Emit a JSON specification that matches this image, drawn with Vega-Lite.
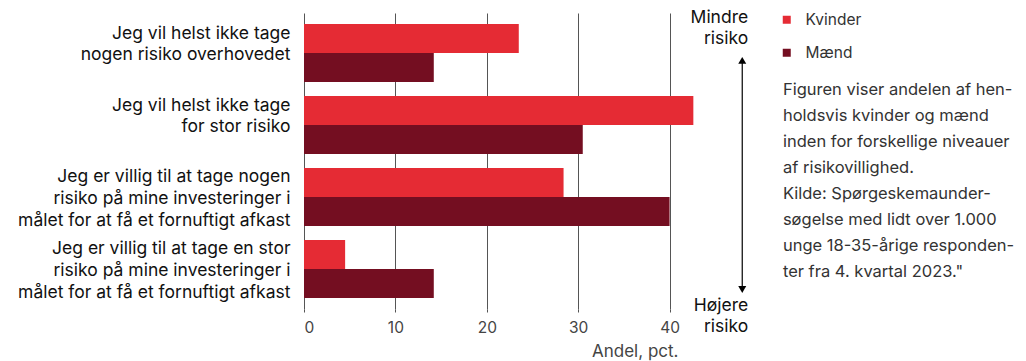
{
  "$schema": "https://vega.github.io/schema/vega-lite/v6.json",
  "autosize": {"type": "none"},
  "padding": {"left": 304, "top": 13, "right": 329, "bottom": 52},
  "width": 393,
  "height": 296,
  "background": "white",
  "config": {
    "font": "Inter",
    "view": {"stroke": null},
    "text": {"font": "Inter"}
  },
  "layer": [
    {
      "data": {"values": [
        {"kategori": "Jeg vil helst ikke tage|nogen risiko overhovedet", "køn": "Kvinder", "andel": 23.5},
        {"kategori": "Jeg vil helst ikke tage|nogen risiko overhovedet", "køn": "Mænd", "andel": 14.2},
        {"kategori": "Jeg vil helst ikke tage|for stor risiko", "køn": "Kvinder", "andel": 42.6},
        {"kategori": "Jeg vil helst ikke tage|for stor risiko", "køn": "Mænd", "andel": 30.5},
        {"kategori": "Jeg er villig til at tage  nogen|risiko på mine investeringer i|målet for at få et fornuftigt afkast", "køn": "Kvinder", "andel": 28.4},
        {"kategori": "Jeg er villig til at tage  nogen|risiko på mine investeringer i|målet for at få et fornuftigt afkast", "køn": "Mænd", "andel": 40.0},
        {"kategori": "Jeg er villig til at tage  en stor|risiko på mine investeringer i|målet for at få et fornuftigt afkast", "køn": "Kvinder", "andel": 4.5},
        {"kategori": "Jeg er villig til at tage  en stor|risiko på mine investeringer i|målet for at få et fornuftigt afkast", "køn": "Mænd", "andel": 14.2}
      ]},
      "mark": {"type": "bar"},
      "encoding": {
        "y": {
          "field": "kategori", "type": "nominal", "sort": null,
          "scale": {"paddingInner": 0.194, "paddingOuter": 0.153},
          "axis": {
            "title": null, "domain": false, "ticks": false,
            "labelExpr": "split(datum.value, '|')",
            "labelFontSize": 17.5, "labelColor": "#111111", "labelFont": "Inter",
            "labelPadding": 14, "labelLimit": 400, "labelLineHeight": 21.7,
            "labelBaseline": "top", "labelOffset": -28.5
          }
        },
        "yOffset": {"field": "køn", "type": "nominal", "sort": ["Kvinder", "Mænd"], "scale": {"paddingInner": 0, "paddingOuter": 0}},
        "x": {
          "field": "andel", "type": "quantitative",
          "scale": {"domain": [0, 43], "nice": false},
          "axis": {
            "values": [0, 10, 20, 30, 40], "grid": true, "gridColor": "#555555", "gridWidth": 1,
            "domain": false, "tickColor": "#555555", "tickSize": 3,
            "labelFontSize": 15.5, "labelColor": "#444444", "labelPadding": 8, "labelFont": "Inter",
            "title": "Andel, pct.", "titleFontSize": 17, "titleFontWeight": "normal", "titleColor": "#444444",
            "titleFont": "Inter", "titleAlign": "right", "titleAnchor": "end", "titleX": 374, "titleY": 42, "titleBaseline": "middle"
          }
        },
        "color": {
          "field": "køn", "type": "nominal",
          "scale": {"domain": ["Kvinder", "Mænd"], "range": ["#E52B34", "#740E21"]},
          "legend": {
            "title": null, "orient": "none", "legendX": 475, "legendY": -1,
            "symbolType": "square", "symbolSize": 64, "symbolStrokeWidth": 0,
            "labelFontSize": 15.5, "labelColor": "#333333", "labelFont": "Inter",
            "labelOffset": 11, "rowPadding": 16
          }
        }
      }
    },
    {
      "data": {"values": [
        {"x": 48.6, "y": 98.3, "t": "Mindre"},
        {"x": 48.6, "y": 91.1, "t": "risiko"},
        {"x": 48.6, "y": 1.0, "t": "Højere"},
        {"x": 48.6, "y": -6.2, "t": "risiko"}
      ]},
      "mark": {"type": "text", "align": "right", "baseline": "middle", "fontSize": 17.5, "color": "#111111"},
      "encoding": {
        "x": {"field": "x", "type": "quantitative", "scale": {"domain": [0, 43], "nice": false}},
        "y": {"field": "y", "type": "quantitative", "scale": {"domain": [0, 100], "nice": false, "zero": false}, "axis": null},
        "text": {"field": "t"}
      }
    },
    {
      "data": {"values": [{"x": 47.95, "y": 84.5, "y2": 6.2}]},
      "mark": {"type": "rule", "color": "#000000", "strokeWidth": 1.2},
      "encoding": {
        "x": {"field": "x", "type": "quantitative", "scale": {"domain": [0, 43], "nice": false}},
        "y": {"field": "y", "type": "quantitative", "scale": {"domain": [0, 100], "nice": false, "zero": false}, "axis": null},
        "y2": {"field": "y2"}
      }
    },
    {
      "data": {"values": [
        {"x": 47.95, "y": 84.0, "s": "triangle-up"},
        {"x": 47.95, "y": 6.6, "s": "triangle-down"}
      ]},
      "mark": {"type": "point", "filled": true, "color": "#000000", "size": 64, "opacity": 1},
      "encoding": {
        "x": {"field": "x", "type": "quantitative", "scale": {"domain": [0, 43], "nice": false}},
        "y": {"field": "y", "type": "quantitative", "scale": {"domain": [0, 100], "nice": false, "zero": false}, "axis": null},
        "shape": {"field": "s", "type": "nominal", "scale": null, "legend": null}
      }
    },
    {
      "data": {"values": [
        {"x": 52.4, "y": 74.0, "t": "Figuren viser andelen af hen-"},
        {"x": 52.4, "y": 65.2, "t": "holdsvis kvinder og mænd"},
        {"x": 52.4, "y": 56.4, "t": "inden for forskellige niveauer"},
        {"x": 52.4, "y": 47.6, "t": "af risikovillighed."},
        {"x": 52.4, "y": 38.9, "t": "Kilde: Spørgeskemaunder-"},
        {"x": 52.4, "y": 30.1, "t": "søgelse med lidt over 1.000"},
        {"x": 52.4, "y": 21.3, "t": "unge 18-35-årige responden-"},
        {"x": 52.4, "y": 12.5, "t": "ter fra 4. kvartal 2023.\""}
      ]},
      "mark": {"type": "text", "align": "left", "baseline": "middle", "fontSize": 16.5, "color": "#333333"},
      "encoding": {
        "x": {"field": "x", "type": "quantitative", "scale": {"domain": [0, 43], "nice": false}},
        "y": {"field": "y", "type": "quantitative", "scale": {"domain": [0, 100], "nice": false, "zero": false}, "axis": null},
        "text": {"field": "t"}
      }
    }
  ],
  "resolve": {"scale": {"y": "independent"}, "axis": {"y": "independent"}}
}
